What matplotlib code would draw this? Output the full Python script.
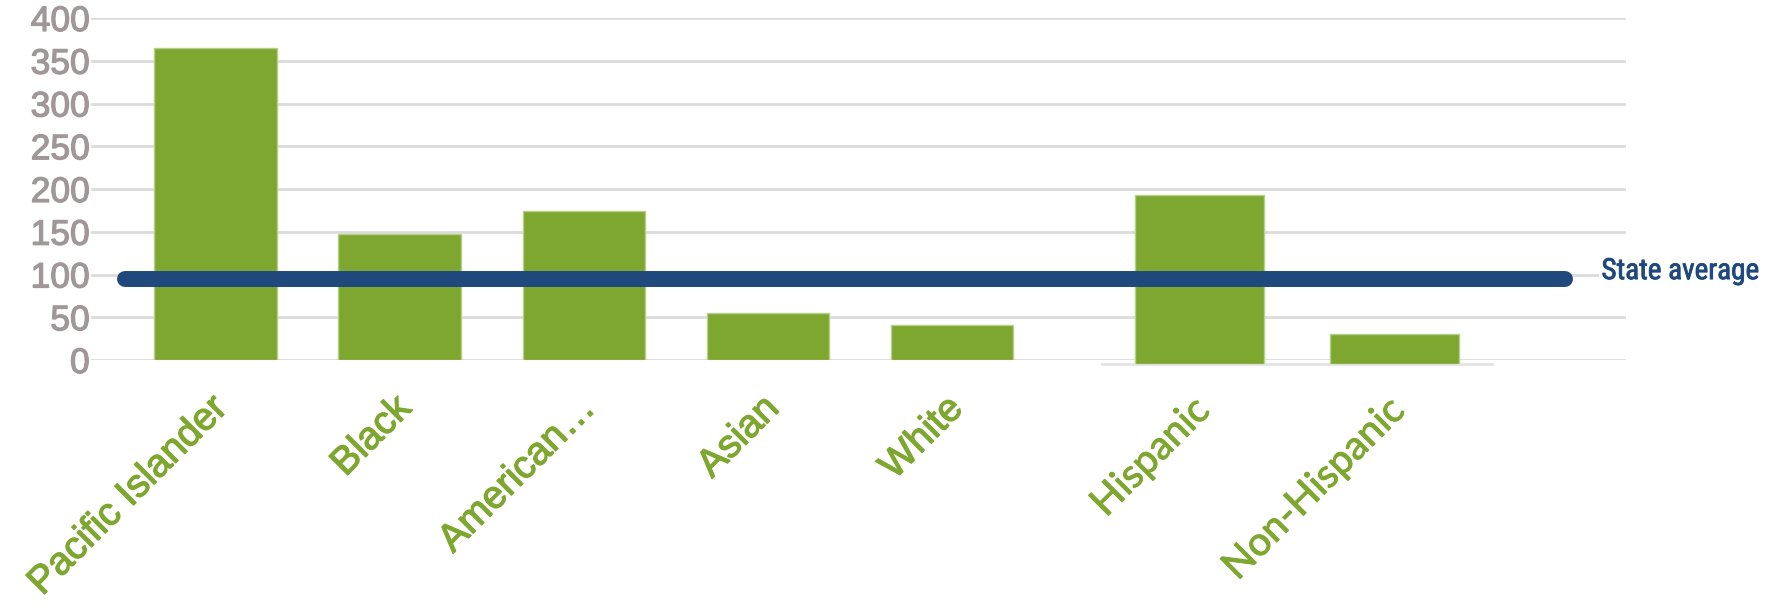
import matplotlib
matplotlib.use("Agg")
import matplotlib.pyplot as plt
import matplotlib.transforms as mtransforms
import matplotlib.patheffects as pe
from matplotlib import font_manager

# data
race_groups = ["Pacific Islander", "Black", "American…", "Asian", "White"]
race_values = [365, 147, 174, 55, 41]
eth_groups = ["Hispanic", "Non-Hispanic"]
eth_values = [198, 35]
state_average = 95
y_ticks = [0, 50, 100, 150, 200, 250, 300, 350, 400]

green = "#7EA72F"
green_edge = "#B5CF8C"
blue = "#1F497D"
tick_gray = "#A09898"
grid_gray = "#DCDCDC"

# pick a narrow face for the legend text if there is one
names = {f.name for f in font_manager.fontManager.ttflist}
narrow = [n for n in ["Liberation Sans Narrow", "Roboto Condensed", "Open Sans Condensed",
                      "DejaVu Sans Condensed"] if n in names]
narrow_family = narrow[:1] + ["DejaVu Sans"]
narrow_size = 21 if narrow else 15.5

def heavier(color, w=0.9):
    # the reference text is a bit heavier than the regular faces
    return [pe.withStroke(linewidth=w, foreground=color)]

W, H = 1773, 611
fig = plt.figure(figsize=(W / 100, H / 100), dpi=100)

def rect(left, right, bottom_px, top_px):
    # pixel box (from top of image) -> figure fraction
    return [left / W, (H - bottom_px) / H, (right - left) / W, (bottom_px - top_px) / H]

# ethnicity chart sits underneath, baseline a few px lower
ax2 = fig.add_axes(rect(1102, 1492, 364, 22))
ax2.set_zorder(2)
ax2.patch.set_visible(False)
ax2.bar(range(len(eth_groups)), eth_values, width=0.663, color=green,
        edgecolor=green_edge, linewidth=1, zorder=3)
ax2.set_xlim(-0.5, 1.5)
ax2.set_ylim(0, 400)
for s in ["top", "right", "left"]:
    ax2.spines[s].set_visible(False)
ax2.spines["bottom"].set_color("#E3E3E3")
ax2.spines["bottom"].set_linewidth(2)
ax2.set_yticks([])
ax2.set_xticks([i + 0.02 for i in range(len(eth_groups))])
ax2.set_xticklabels(eth_groups, rotation=45, ha="right", va="center",
                    rotation_mode="anchor", color=green, fontsize=28.5,
                    family=["Lato", "DejaVu Sans"])
ax2.tick_params(axis="x", length=0, pad=29)
for lab in ax2.get_xticklabels():
    lab.set_path_effects(heavier(green, 0.7))

# main race chart
ax = fig.add_axes(rect(91, 1626, 360, 18))
ax.set_zorder(1)
ax.bar(range(len(race_groups)), race_values, width=0.668, color=green,
       edgecolor=green_edge, linewidth=1, zorder=3)
ax.set_xlim(-0.679, 7.663)
ax.set_ylim(0, 400)
ax.set_yticks(y_ticks)
ax.yaxis.grid(True, color=grid_gray, linewidth=2)
ax.set_axisbelow(True)
for s in ax.spines.values():
    s.set_visible(False)
ax.tick_params(axis="y", length=0, pad=1, labelsize=25.5, labelcolor=tick_gray)
for lab in ax.get_yticklabels():
    lab.set_family(["Liberation Sans", "DejaVu Sans"])
    lab.set_path_effects(heavier(tick_gray))
ax.set_xticks([i + 0.03 for i in range(len(race_groups))])
ax.set_xticklabels(race_groups, rotation=45, ha="right", va="center",
                   rotation_mode="anchor", color=green, fontsize=28,
                   family=["Liberation Sans", "DejaVu Sans"])
ax.tick_params(axis="x", length=0, pad=31)
for lab in ax.get_xticklabels():
    lab.set_path_effects(heavier(green))

# state average line on its own overlay so it sits above both charts
ax3 = fig.add_axes(ax.get_position())
ax3.set_zorder(3)
ax3.patch.set_visible(False)
ax3.axis("off")
ax3.set_ylim(0, 400)
ax3.axhline(state_average, xmin=0.022, xmax=0.96, color=blue, linewidth=11.5,
            solid_capstyle="round")
trans = mtransforms.blended_transform_factory(ax3.transAxes, ax3.transData)
ax3.text(0.984, state_average + 9, "State average", transform=trans,
         ha="left", va="center", color=blue, fontsize=narrow_size,
         family=narrow_family, fontstretch="condensed",
         path_effects=heavier(blue, 0.6),
         bbox=dict(facecolor="white", edgecolor="none", pad=2), clip_on=False)

fig.savefig("out.png", dpi=100)
